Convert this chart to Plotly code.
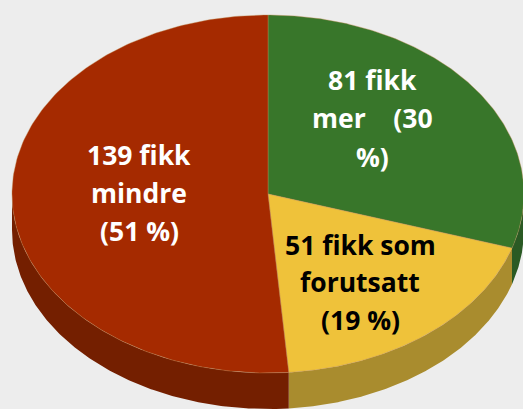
import numpy as np
import plotly.graph_objects as go

categories = ["fikk mer", "fikk som forutsatt", "fikk mindre"]
values = [81, 51, 139]
top_colors = ["#38762A", "#EFC23A", "#A52A00"]
wall_colors = ["#2A5A24", "#A98C2E", "#741F00"]
label_lines = [
    ["81 fikk", "mer\u00a0\u00a0\u00a0\u00a0(30", "%)"],
    ["51 fikk som", "forutsatt", "(19 %)"],
    ["139 fikk", "mindre", "(51 %)"],
]
label_colors = ["white", "black", "white"]
label_x = [372, 360, 139]
label_y = [[80, 118, 157], [245, 282, 320], [155, 193, 231]]

CX, CY, RX, RY, DEPTH = 268, 194, 256, 179, 36


def arc(a0, a1):
    t = np.radians(np.linspace(a0, a1, 200))
    return CX + RX * np.sin(t), CY - RY * np.cos(t)


fig = go.Figure()
total = sum(values)
edges = np.concatenate([[0], np.cumsum(values) / total * 360])

# side walls (only the front half of the disc can be seen)
for i, c in enumerate(wall_colors):
    a0, a1 = max(edges[i], 90), min(edges[i + 1], 270)
    if a1 <= a0:
        continue
    x, y = arc(a0, a1)
    fig.add_trace(go.Scatter(
        x=np.concatenate([x, x[::-1]]),
        y=np.concatenate([y, y[::-1] + DEPTH]),
        fill="toself", fillcolor=c, mode="lines",
        line=dict(width=0), hoverinfo="skip", showlegend=False))

# top faces
for i, c in enumerate(top_colors):
    x, y = arc(edges[i], edges[i + 1])
    fig.add_trace(go.Scatter(
        x=np.concatenate([[CX], x, [CX]]),
        y=np.concatenate([[CY], y, [CY]]),
        fill="toself", fillcolor=c, mode="lines",
        line=dict(width=0.4, color="#C08A50"), name=categories[i], showlegend=False))

for lines, col, lx, lys in zip(label_lines, label_colors, label_x, label_y):
    for line, ly in zip(lines, lys):
        fig.add_annotation(x=lx, y=ly, text=f"<b>{line}</b>", showarrow=False,
                           xanchor="center", yanchor="middle",
                           font=dict(family="Open Sans", size=26.5, color=col))

fig.update_layout(
    width=523, height=409, margin=dict(l=0, r=0, t=0, b=0),
    paper_bgcolor="#EDEDED", plot_bgcolor="#EDEDED",
    xaxis=dict(range=[0, 523], visible=False, fixedrange=True),
    yaxis=dict(range=[409, 0], visible=False, fixedrange=True),
)
fig.write_html("out.html", config=dict(displayModeBar=False),
               post_script="document.body.style.margin='0';document.documentElement.style.background='#EDEDED';")
